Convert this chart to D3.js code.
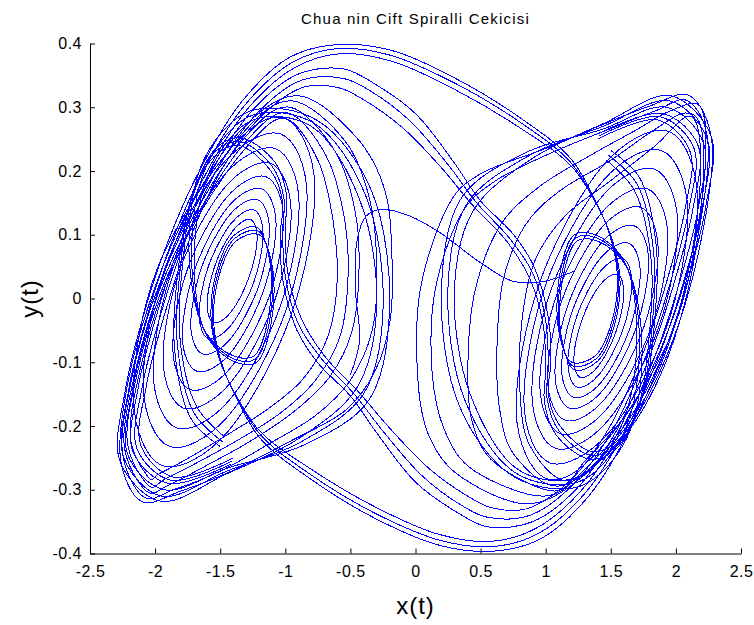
<!DOCTYPE html>
<html>
<head>
<meta charset="utf-8">
<script src="https://cdn.jsdelivr.net/npm/d3@7"></script>
<style>
  body { margin: 0; background: #fff; }
  text { font-family: "Liberation Sans", Arial, Helvetica, sans-serif; fill: #000; }
</style>
</head>
<body>
<svg id="chart" width="754" height="625"></svg>
<script>
// Chua double-scroll attractor, phase plane x(t) vs y(t)

const titleText = "Chua nin Cift Spiralli Cekicisi";
const xLabel = "x(t)";
const yLabel = "y(t)";
const xTicks = [-2.5, -2, -1.5, -1, -0.5, 0, 0.5, 1, 1.5, 2, 2.5];
const yTicks = [-0.4, -0.3, -0.2, -0.1, 0, 0.1, 0.2, 0.3, 0.4];

// Inner turns of the left scroll (closed loops of [x, y])
const leftCoreLoops = [
  [[-1.267,0.124],[-1.216,0.094],[-1.278,0.034],[-1.416,-0.021],[-1.549,-0.038],[-1.600,-0.008],[-1.538,0.053],[-1.400,0.107]],
  [[-1.241,0.139],[-1.170,0.100],[-1.243,0.025],[-1.417,-0.042],[-1.591,-0.063],[-1.662,-0.024],[-1.590,0.051],[-1.415,0.118]],
  [[-1.213,0.155],[-1.122,0.109],[-1.207,0.018],[-1.420,-0.063],[-1.635,-0.087],[-1.726,-0.041],[-1.641,0.050],[-1.428,0.131]],
  [[-1.182,0.172],[-1.071,0.117],[-1.171,0.010],[-1.423,-0.086],[-1.680,-0.114],[-1.791,-0.059],[-1.691,0.048],[-1.439,0.144]],
  [[-1.149,0.191],[-1.014,0.126],[-1.128,0.001],[-1.425,-0.110],[-1.730,-0.143],[-1.864,-0.078],[-1.750,0.047],[-1.453,0.158]],
  [[-1.113,0.212],[-0.955,0.137],[-1.086,-0.006],[-1.428,-0.134],[-1.781,-0.172],[-1.939,-0.097],[-1.809,0.046],[-1.466,0.174]],
  [[-1.074,0.235],[-0.894,0.150],[-1.042,-0.014],[-1.432,-0.160],[-1.835,-0.203],[-2.014,-0.118],[-1.866,0.046],[-1.476,0.192]],
  [[-1.035,0.258],[-0.833,0.163],[-0.999,-0.021],[-1.437,-0.184],[-1.889,-0.232],[-2.091,-0.137],[-1.925,0.047],[-1.487,0.210]],
  [[-0.997,0.282],[-0.773,0.176],[-0.957,-0.027],[-1.442,-0.209],[-1.943,-0.262],[-2.167,-0.156],[-1.983,0.047],[-1.420,0.235]]
];

// Wide turns of the left scroll
const leftOuterLoops = [
  [[-0.994,0.282],[-0.748,0.216],[-0.633,0.122],[-0.602,0.027],[-0.672,-0.059],[-0.863,-0.126],[-1.132,-0.173],[-1.424,-0.211],[-1.715,-0.247],[-1.961,-0.274],[-2.053,-0.280],[-2.191,-0.216],[-2.114,-0.111],[-1.938,0.012],[-1.646,0.137],[-1.270,0.244]],
  [[-0.979,0.291],[-0.687,0.224],[-0.549,0.129],[-0.518,0.035],[-0.579,-0.059],[-0.771,-0.129],[-1.040,-0.180],[-1.347,-0.220],[-1.654,-0.255],[-1.922,-0.283],[-2.053,-0.293],[-2.214,-0.224],[-2.137,-0.117],[-1.961,0.007],[-1.669,0.134],[-1.286,0.250]],
  [[-0.963,0.300],[-0.618,0.231],[-0.464,0.137],[-0.434,0.043],[-0.487,-0.051],[-0.656,-0.122],[-0.925,-0.176],[-1.270,-0.224],[-1.615,-0.263],[-1.899,-0.293],[-2.068,-0.302],[-2.237,-0.231],[-2.160,-0.122],[-1.984,0.004],[-1.692,0.134],[-1.301,0.255]],
  [[-0.948,0.310],[-0.541,0.247],[-0.349,0.153],[-0.296,0.043],[-0.334,-0.051],[-0.503,-0.129],[-0.771,-0.184],[-1.117,-0.227],[-1.500,-0.271],[-1.846,-0.299],[-2.091,-0.311],[-2.252,-0.239],[-2.183,-0.129],[-2.015,-0.004],[-1.731,0.129],[-1.324,0.260]],
  [[-0.902,0.318],[-0.464,0.255],[-0.234,0.169],[-0.180,0.059],[-0.196,-0.035],[-0.311,-0.114],[-0.541,-0.176],[-0.963,-0.224],[-1.416,-0.271],[-1.800,-0.302],[-2.107,-0.318],[-2.268,-0.247],[-2.206,-0.129],[-2.038,-0.004],[-1.769,0.129],[-1.347,0.263]]
];

// Inner turns of the right scroll
const rightCoreLoops = [
  [[1.267,-0.124],[1.216,-0.094],[1.278,-0.034],[1.416,0.021],[1.549,0.038],[1.600,0.008],[1.538,-0.053],[1.400,-0.107]],
  [[1.241,-0.139],[1.170,-0.100],[1.243,-0.025],[1.417,0.042],[1.591,0.063],[1.662,0.024],[1.590,-0.051],[1.415,-0.118]],
  [[1.213,-0.155],[1.122,-0.109],[1.207,-0.018],[1.420,0.063],[1.635,0.087],[1.726,0.041],[1.641,-0.050],[1.428,-0.131]],
  [[1.182,-0.172],[1.071,-0.117],[1.171,-0.010],[1.423,0.086],[1.680,0.114],[1.791,0.059],[1.691,-0.048],[1.439,-0.144]],
  [[1.149,-0.191],[1.014,-0.126],[1.128,-0.001],[1.425,0.110],[1.730,0.143],[1.864,0.078],[1.750,-0.047],[1.453,-0.158]],
  [[1.113,-0.212],[0.955,-0.137],[1.086,0.006],[1.428,0.134],[1.781,0.172],[1.939,0.097],[1.809,-0.046],[1.466,-0.174]],
  [[1.074,-0.235],[0.894,-0.150],[1.042,0.014],[1.432,0.160],[1.835,0.203],[2.014,0.118],[1.866,-0.046],[1.476,-0.192]],
  [[1.035,-0.258],[0.833,-0.163],[0.999,0.021],[1.437,0.184],[1.889,0.232],[2.091,0.137],[1.925,-0.047],[1.487,-0.210]],
  [[0.997,-0.282],[0.773,-0.176],[0.957,0.027],[1.442,0.209],[1.943,0.262],[2.167,0.156],[1.983,-0.047],[1.420,-0.235]]
];

// Wide turns of the right scroll
const rightOuterLoops = [
  [[1.170,-0.286],[0.879,-0.231],[0.802,-0.145],[0.817,-0.035],[0.917,0.059],[1.147,0.129],[1.493,0.184],[1.838,0.239],[2.091,0.286],[2.184,0.247],[2.168,0.137],[2.053,0.004],[1.838,-0.126],[1.531,-0.224]],
  [[1.109,-0.294],[0.764,-0.247],[0.648,-0.176],[0.625,-0.082],[0.672,0.027],[0.840,0.114],[1.109,0.169],[1.493,0.216],[1.800,0.260],[2.069,0.291],[2.199,0.263],[2.199,0.153],[2.091,0.012],[1.877,-0.122],[1.570,-0.224]],
  [[1.071,-0.302],[0.610,-0.258],[0.434,-0.192],[0.403,-0.098],[0.457,0.012],[0.649,0.114],[0.955,0.176],[1.339,0.224],[1.684,0.263],[1.953,0.294],[2.184,0.302],[2.230,0.231],[2.161,0.106],[1.969,-0.035],[1.662,-0.169],[1.301,-0.255]],
  [[0.990,-0.310],[0.457,-0.271],[0.226,-0.208],[0.127,-0.114],[0.150,0.012],[0.342,0.129],[0.610,0.184],[1.071,0.231],[1.493,0.266],[1.838,0.294],[2.091,0.310],[2.245,0.247],[2.184,0.114],[2.000,-0.035],[1.692,-0.173],[1.324,-0.263]],
  [[0.879,-0.322],[0.365,-0.282],[0.111,-0.219],[0.019,-0.129],[0.035,0.012],[0.242,0.142],[0.495,0.195],[1.009,0.236],[1.416,0.271],[1.800,0.302],[2.107,0.318],[2.276,0.247],[2.222,0.122],[2.030,-0.035],[1.723,-0.176],[1.339,-0.270]]
];

// Passages from the left scroll over the top into the right scroll
const leftToRight = [
  [[-1.45,-0.275],[-1.96,-0.318],[-2.27,-0.255],[-2.23,-0.145],[-2.08,-0.020],[-1.90,0.090],[-1.64,0.208],[-1.33,0.310],[-0.97,0.378],[-0.62,0.398],[-0.20,0.390],[0.30,0.346],[0.80,0.284],[1.19,0.220],[1.39,0.150],[1.49,0.101],[1.55,0.038],[1.51,-0.035],[1.38,-0.090],[1.20,-0.100],[1.10,-0.050],[1.11,0.040],[1.22,0.100],[1.38,0.100]],
  [[-1.44,-0.270],[-1.95,-0.310],[-2.24,-0.250],[-2.20,-0.140],[-2.05,-0.020],[-1.87,0.090],[-1.61,0.208],[-1.30,0.306],[-0.95,0.370],[-0.60,0.392],[-0.20,0.382],[0.30,0.338],[0.80,0.277],[1.19,0.214],[1.40,0.145],[1.50,0.097],[1.56,0.035],[1.52,-0.038],[1.39,-0.094],[1.21,-0.106],[1.11,-0.055],[1.12,0.035],[1.23,0.095],[1.39,0.095]],
  [[-1.43,-0.265],[-1.93,-0.300],[-2.21,-0.245],[-2.17,-0.140],[-2.02,-0.020],[-1.84,0.090],[-1.58,0.207],[-1.27,0.302],[-0.93,0.362],[-0.58,0.384],[-0.18,0.372],[0.30,0.328],[0.80,0.268],[1.20,0.207],[1.41,0.140],[1.51,0.093],[1.57,0.032],[1.53,-0.041],[1.40,-0.098],[1.22,-0.112],[1.12,-0.060],[1.13,0.030],[1.24,0.090],[1.40,0.090]],
  [[-1.42,-0.260],[-1.90,-0.290],[-2.17,-0.240],[-2.13,-0.140],[-1.98,-0.020],[-1.80,0.090],[-1.55,0.205],[-1.24,0.298],[-0.90,0.352],[-0.55,0.360],[-0.30,0.335],[0.00,0.290],[0.29,0.215],[0.50,0.153],[0.75,0.101],[0.91,0.050],[1.02,-0.030],[1.04,-0.100],[1.02,-0.150],[1.11,-0.200],[1.36,-0.240],[1.58,-0.218],[1.75,-0.150],[1.83,-0.050]],
  [[-1.41,-0.255],[-1.88,-0.285],[-2.14,-0.235],[-2.10,-0.140],[-1.95,-0.020],[-1.77,0.090],[-1.52,0.204],[-1.21,0.292],[-0.88,0.342],[-0.55,0.345],[-0.35,0.326],[-0.05,0.280],[0.25,0.210],[0.47,0.150],[0.72,0.095],[0.90,0.040],[1.00,-0.035],[1.02,-0.105],[1.01,-0.156],[1.10,-0.207],[1.35,-0.246],[1.56,-0.228],[1.73,-0.160],[1.81,-0.060]],
  [[-1.40,-0.250],[-1.86,-0.280],[-2.11,-0.230],[-2.07,-0.140],[-1.92,-0.020],[-1.74,0.090],[-1.49,0.202],[-1.18,0.287],[-0.85,0.332],[-0.58,0.330],[-0.40,0.312],[-0.10,0.268],[0.20,0.205],[0.44,0.146],[0.70,0.090],[0.88,0.030],[0.98,-0.040],[1.00,-0.110],[0.99,-0.162],[1.08,-0.214],[1.34,-0.252],[1.54,-0.236],[1.71,-0.170],[1.79,-0.070]]
];

// How each passage carries on inside the right scroll
const rightTurns = [
  [[1.60,0.060],[1.70,-0.060],[1.58,-0.200],[1.25,-0.280],[0.80,-0.270],[0.42,-0.150],[0.30,0.020],[0.45,0.140],[0.90,0.220]],
  [[1.61,0.055],[1.72,-0.070],[1.60,-0.210],[1.26,-0.287],[0.78,-0.275],[0.38,-0.160],[0.25,0.020],[0.40,0.150],[0.88,0.225]],
  [[1.62,0.050],[1.74,-0.080],[1.62,-0.220],[1.27,-0.294],[0.76,-0.280],[0.34,-0.170],[0.20,0.020],[0.36,0.160],[0.86,0.230]],
  [[1.85,0.080],[1.72,0.190],[1.50,0.232]],
  [[1.83,0.070],[1.70,0.180],[1.48,0.225]],
  [[1.81,0.060],[1.68,0.170],[1.46,0.218]]
];

// Passages from the right scroll under the bottom into the left scroll
const rightToLeft = [
  [[1.45,0.275],[1.96,0.318],[2.27,0.255],[2.23,0.145],[2.08,0.020],[1.90,-0.090],[1.64,-0.208],[1.33,-0.310],[0.97,-0.376],[0.62,-0.396],[0.20,-0.388],[-0.30,-0.346],[-0.80,-0.284],[-1.19,-0.220],[-1.39,-0.150],[-1.49,-0.101],[-1.55,-0.038],[-1.51,0.035],[-1.38,0.090],[-1.20,0.100],[-1.10,0.050],[-1.11,-0.040],[-1.22,-0.100],[-1.38,-0.100]],
  [[1.44,0.270],[1.95,0.310],[2.24,0.250],[2.20,0.140],[2.05,0.020],[1.87,-0.090],[1.61,-0.208],[1.30,-0.306],[0.95,-0.368],[0.60,-0.389],[0.20,-0.380],[-0.30,-0.338],[-0.80,-0.277],[-1.19,-0.214],[-1.40,-0.145],[-1.50,-0.097],[-1.56,-0.035],[-1.52,0.038],[-1.39,0.094],[-1.21,0.106],[-1.11,0.055],[-1.12,-0.035],[-1.23,-0.095],[-1.39,-0.095]],
  [[1.43,0.265],[1.93,0.300],[2.21,0.245],[2.17,0.140],[2.02,0.020],[1.84,-0.090],[1.58,-0.207],[1.27,-0.302],[0.93,-0.360],[0.58,-0.381],[0.18,-0.370],[-0.30,-0.328],[-0.80,-0.268],[-1.20,-0.207],[-1.41,-0.140],[-1.51,-0.093],[-1.57,-0.032],[-1.53,0.041],[-1.40,0.098],[-1.22,0.112],[-1.12,0.060],[-1.13,-0.030],[-1.24,-0.090],[-1.40,-0.090]],
  [[1.42,0.260],[1.90,0.290],[2.17,0.240],[2.13,0.140],[1.98,0.020],[1.80,-0.090],[1.55,-0.205],[1.24,-0.298],[0.90,-0.350],[0.55,-0.358],[0.30,-0.333],[0.00,-0.288],[-0.29,-0.213],[-0.50,-0.153],[-0.75,-0.101],[-0.91,-0.050],[-1.02,0.030],[-1.04,0.100],[-1.02,0.150],[-1.11,0.200],[-1.36,0.240],[-1.55,0.222],[-1.73,0.150],[-1.82,0.050]],
  [[1.41,0.255],[1.88,0.285],[2.14,0.235],[2.10,0.140],[1.95,0.020],[1.77,-0.090],[1.52,-0.204],[1.21,-0.292],[0.88,-0.340],[0.55,-0.343],[0.35,-0.324],[0.05,-0.278],[-0.25,-0.208],[-0.47,-0.150],[-0.72,-0.095],[-0.90,-0.040],[-1.00,0.035],[-1.02,0.105],[-1.01,0.156],[-1.10,0.207],[-1.35,0.246],[-1.54,0.230],[-1.72,0.160],[-1.80,0.060]],
  [[1.40,0.250],[1.86,0.280],[2.11,0.230],[2.07,0.140],[1.92,0.020],[1.74,-0.090],[1.49,-0.202],[1.18,-0.287],[0.85,-0.330],[0.58,-0.328],[0.40,-0.310],[0.10,-0.266],[-0.20,-0.203],[-0.44,-0.146],[-0.70,-0.090],[-0.88,-0.030],[-0.98,0.040],[-1.00,0.110],[-0.99,0.162],[-1.08,0.214],[-1.34,0.252],[-1.52,0.238],[-1.70,0.170],[-1.78,0.070]]
];

// How each passage carries on inside the left scroll
const leftTurns = [
  [[-1.60,-0.060],[-1.70,0.060],[-1.58,0.200],[-1.25,0.280],[-0.80,0.270],[-0.42,0.150],[-0.30,-0.020],[-0.45,-0.140],[-0.90,-0.220]],
  [[-1.61,-0.055],[-1.72,0.070],[-1.60,0.210],[-1.26,0.287],[-0.78,0.275],[-0.38,0.160],[-0.25,-0.020],[-0.40,-0.150],[-0.88,-0.225]],
  [[-1.62,-0.050],[-1.74,0.080],[-1.62,0.220],[-1.27,0.294],[-0.76,0.280],[-0.34,0.170],[-0.20,-0.020],[-0.36,-0.160],[-0.86,-0.230]],
  [[-1.85,-0.080],[-1.72,-0.190],[-1.50,-0.232]],
  [[-1.83,-0.070],[-1.70,-0.180],[-1.48,-0.225]],
  [[-1.81,-0.060],[-1.68,-0.170],[-1.46,-0.218]]
];

// Crossing near the origin
const originCrossing = [[-0.50,-0.120],[-0.43,-0.067],[-0.46,0.012],[-0.45,0.090],[-0.38,0.129],[-0.26,0.140],[-0.04,0.129],[0.19,0.103],[0.50,0.056],[0.75,0.027],[0.99,0.027],[1.22,0.043]];

const W = 754, H = 625;
const margin = { left: 90, right: 13, top: 43.5, bottom: 71.5 };

const svg = d3.select("#chart");

const x = d3.scaleLinear().domain([-2.5, 2.5]).range([margin.left, W - margin.right]);
const y = d3.scaleLinear().domain([-0.4, 0.4]).range([H - margin.bottom, margin.top]);

const closedLoop = d3.line()
  .x(d => x(d[0])).y(d => y(d[1]))
  .curve(d3.curveCardinalClosed.tension(0));
const closedOrbit = d3.line()
  .x(d => x(d[0])).y(d => y(d[1]))
  .curve(d3.curveCatmullRomClosed.alpha(0.5));
const openLine = d3.line()
  .x(d => x(d[0])).y(d => y(d[1]))
  .curve(d3.curveCatmullRom.alpha(0.5));

// hard-edged 1px strokes
const traj = svg.append("g")
  .attr("fill", "none")
  .attr("stroke", "#0000ff")
  .attr("stroke-width", 1)
  .attr("shape-rendering", "crispEdges");

const loops = [].concat(leftCoreLoops, leftOuterLoops, rightCoreLoops, rightOuterLoops);
traj.selectAll("path.loop").data(loops).join("path")
  .attr("class", "loop")
  .attr("d", closedLoop);

// first three passages close into full orbits (over the top, under the bottom)
const orbits = [0, 1, 2].map(i => d3.merge([leftToRight[i], rightTurns[i], rightToLeft[i], leftTurns[i]]));
traj.selectAll("path.orbit").data(orbits).join("path")
  .attr("class", "orbit")
  .attr("d", closedOrbit);

// the remaining passages run on as open strands
const strands = [3, 4, 5].flatMap(i => [
  d3.merge([leftToRight[i], rightTurns[i]]),
  d3.merge([rightToLeft[i], leftTurns[i]])
]).concat([originCrossing]);
traj.selectAll("path.strand").data(strands).join("path")
  .attr("class", "strand")
  .attr("d", openLine);

// axes: box off, ticks pointing inward
const xAxis = d3.axisBottom(x).tickValues(xTicks).tickSize(-5).tickSizeOuter(0)
  .tickPadding(12).tickFormat(d => String(d));
const yAxis = d3.axisLeft(y).tickValues(yTicks).tickSize(-5).tickSizeOuter(0)
  .tickPadding(8).tickFormat(d => String(d));

const gx = svg.append("g").attr("transform", `translate(0,${H - margin.bottom})`).call(xAxis);
const gy = svg.append("g").attr("transform", `translate(${margin.left},0)`).call(yAxis);

[gx, gy].forEach(g => {
  g.select(".domain").attr("stroke", "#000").attr("stroke-width", 1);
  g.selectAll(".tick line").attr("stroke", "#000");
  g.selectAll(".tick text")
    .style("font-family", "'Liberation Sans', Arial, sans-serif")
    .style("font-size", "16px")
    .style("letter-spacing", "0.5px")
    .attr("fill", "#000");
});

svg.append("text")
  .attr("x", (margin.left + W - margin.right) / 2)
  .attr("y", 24)
  .attr("text-anchor", "middle")
  .style("font-size", "15px")
  .style("letter-spacing", "1.2px")
  .attr("fill", "#222")
  .text(titleText);

svg.append("text")
  .attr("x", (margin.left + W - margin.right) / 2)
  .attr("y", 614)
  .attr("text-anchor", "middle")
  .style("font-size", "24px")
  .style("letter-spacing", "1px")
  .text(xLabel);

svg.append("text")
  .attr("transform", `translate(38,${y(0)}) rotate(-90)`)
  .attr("text-anchor", "middle")
  .style("font-size", "24px")
  .style("letter-spacing", "1px")
  .text(yLabel);
</script>
</body>
</html>
